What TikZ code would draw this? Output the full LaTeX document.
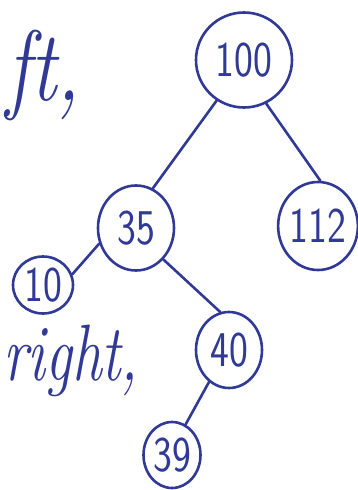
\documentclass[tikz,border=0pt]{standalone}
\usetikzlibrary{shapes.geometric}
\definecolor{ink}{RGB}{48,58,150}
\newcommand\handword[3]{\scalebox{#1}[1]{\fontsize{#2}{#2}\selectfont\itshape #3}}
\newcommand\keytext[1]{\scalebox{0.8}[1]{#1}}
\tikzset{
  keynode/.style={ellipse, draw=ink, line width=2.6pt, inner sep=0pt,
    text=ink, font=\sffamily\fontsize{50}{50}\selectfont},
  link/.style={draw=ink, line width=2.6pt, line cap=round},
  word/.style={text=ink, inner sep=0pt, anchor=base west}
}
\begin{document}
\begin{tikzpicture}[x=1pt, y=-1pt]
  \fill[white] (0,0) rectangle (358,490);
  \useasboundingbox (0,0) rectangle (358,490);

  % fragments of handwritten words on the left
  \node[word] (wleft)  at (6,100)  {\handword{0.8}{100}{ft,}};
  \node[word] (wright) at (3,380) {\handword{0.74}{80}{right,}};

  % tree keys
  \node[keynode, minimum width=96pt, minimum height=95pt] (n100) at (244,60)  {\keytext{100}};
  \node[keynode, minimum width=76pt, minimum height=85pt] (n35)  at (136,228) {\keytext{35}};
  \node[keynode, minimum width=77pt, minimum height=88pt] (n112) at (318,226) {\keytext{112}};
  \node[keynode, minimum width=60pt, minimum height=57pt] (n10)  at (43,285)  {\keytext{10}};
  \node[keynode, minimum width=66pt, minimum height=76pt] (n40)  at (229,350) {\keytext{40}};
  \node[keynode, minimum width=57pt, minimum height=66pt] (n39)  at (172,455) {\keytext{39}};

  % parent-child links
  \draw[link] (n100.-124) -- (n35.67);
  \draw[link] (n100.-63)  -- (n112.87);
  \draw[link] (n35.203)   -- (n10.20);
  \draw[link] (n35.-49)   -- (n40.103);
  \draw[link] (n40.-122)  -- (n39.66);
\end{tikzpicture}
\end{document}
